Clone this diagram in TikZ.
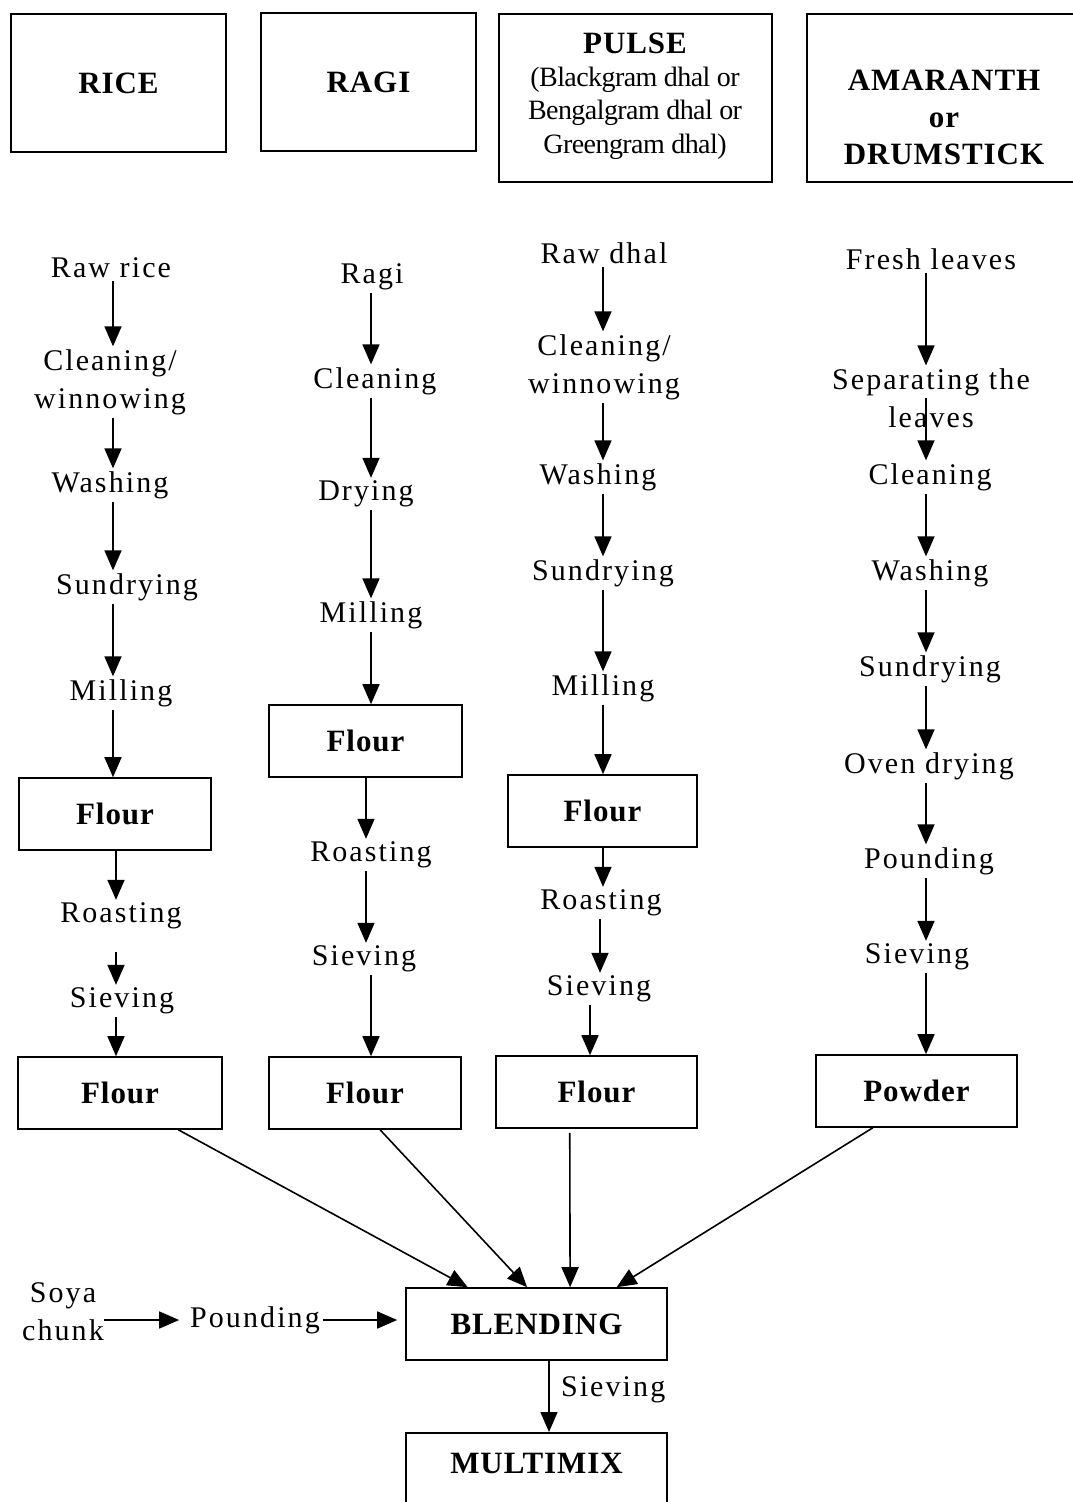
\documentclass[tikz,border=0pt]{standalone}
\usepackage{fontspec}
\setmainfont{Liberation Serif}
\newfontfamily\bodyf[LetterSpace=7]{Liberation Serif}
\newfontfamily\hdf[LetterSpace=3]{Liberation Serif}
\newfontfamily\subf[LetterSpace=-2]{Liberation Serif}
\usetikzlibrary{arrows.meta,calc}
\begin{document}
\begin{tikzpicture}[x=1pt,y=-1pt,
  txt/.style={font=\bodyf\fontsize{30}{38}\selectfont, inner sep=0pt, outer sep=3pt, align=center},
  hb/.style={font=\hdf\bfseries\fontsize{31}{37}\selectfont, align=center},
  box/.style={draw, line width=1.6pt, hb, inner sep=0pt},
  arr/.style={-{Triangle[length=20pt,width=17pt]}, line width=1.6pt}]
\useasboundingbox (0,0) rectangle (1073,1502);
% top boxes
\node[box, minimum width=215, minimum height=138] (rice) at (118.5,83) {RICE};
\node[box, minimum width=215, minimum height=138] (ragi) at (368.5,82) {RAGI};
\node[box, minimum width=273, minimum height=168] (pulse) at (635.5,98) {};
\node[hb, inner sep=0pt] (pulset) at (635,43) {PULSE};
\node[font=\subf\fontsize{28}{33.5}\selectfont, align=center, inner sep=0pt] (pulsesub) at (635,113) {(Blackgram dhal or\\Bengalgram dhal or\\Greengram dhal)};
\node[box, minimum width=268, minimum height=168] (amar) at (941,98) {};
\node[hb, inner sep=0pt] (amart) at (944,117) {AMARANTH\\or\\DRUMSTICK};
% column coordinates
\coordinate (xR) at (113,0);
\coordinate (xR2) at (116,0);
\coordinate (xG) at (371,0);
\coordinate (xG2) at (366,0);
\coordinate (xP) at (603,0);
\coordinate (xP2) at (600,0);
\coordinate (xP3) at (590,0);
\coordinate (xA) at (926,0);
% rice
\node[txt] (rr) at (111,268) {Raw rice};
\node[txt] (rc) at (110,382) {Cleaning/\\winnowing};
\node[txt] (rw) at (110,485) {Washing};
\node[txt] (rs) at (127,587) {Sundrying};
\node[txt] (rm) at (121,693) {Milling};
\node[box, minimum width=192, minimum height=72] (rf1) at (115,814) {Flour};
\node[txt] (rro) at (121,916) {Roasting};
\node[txt] (rsv) at (122,1001) {Sieving};
\node[box, minimum width=204, minimum height=72] (rf2) at (120,1093) {Flour};
\draw[arr] (rr.south -| xR) -- (rc.north -| xR);
\draw[arr] (rc.south -| xR) -- (rw.north -| xR);
\draw[arr] (rw.south -| xR) -- (rs.north -| xR);
\draw[arr] (rs.south -| xR) -- (rm.north -| xR);
\draw[arr] (rm.south -| xR) -- (rf1.north -| xR);
\draw[arr] (rf1.south -| xR2) -- (rro.north -| xR2);
\draw[arr, shorten <=20pt] (rro.south -| xR2) -- (rsv.north -| xR2);
\draw[arr] (rsv.south -| xR2) -- (rf2.north -| xR2);
% ragi
\node[txt] (gr) at (372,277) {Ragi};
\node[txt] (gc) at (375,381) {Cleaning};
\node[txt] (gd) at (366,494) {Drying};
\node[txt] (gm) at (371,615) {Milling};
\node[box, minimum width=193, minimum height=72] (gf1) at (365.5,741) {Flour};
\node[txt] (gro) at (371,855) {Roasting};
\node[txt] (gsv) at (364,959) {Sieving};
\node[box, minimum width=192, minimum height=72] (gf2) at (365,1093) {Flour};
\draw[arr] (gr.south -| xG) -- (gc.north -| xG);
\draw[arr] (gc.south -| xG) -- (gd.north -| xG);
\draw[arr] (gd.south -| xG) -- (gm.north -| xG);
\draw[arr] (gm.south -| xG) -- (gf1.north -| xG);
\draw[arr] (gf1.south -| xG2) -- (gro.north -| xG2);
\draw[arr] (gro.south -| xG2) -- (gsv.north -| xG2);
\draw[arr] (gsv.south -| xG) -- (gf2.north -| xG);
% pulse
\node[txt] (pr) at (604,253) {Raw dhal};
\node[txt] (pc) at (604,367) {Cleaning/\\winnowing};
\node[txt] (pw) at (598,477) {Washing};
\node[txt] (ps) at (603,573) {Sundrying};
\node[txt] (pm) at (603,688) {Milling};
\node[box, minimum width=189, minimum height=72] (pf1) at (602.5,811) {Flour};
\node[txt] (pro) at (601,903) {Roasting};
\node[txt] (psv) at (599,989) {Sieving};
\node[box, minimum width=201, minimum height=72] (pf2) at (596.5,1092) {Flour};
\draw[arr] (pr.south -| xP) -- (pc.north -| xP);
\draw[arr] (pc.south -| xP) -- (pw.north -| xP);
\draw[arr] (pw.south -| xP) -- (ps.north -| xP);
\draw[arr] (ps.south -| xP) -- (pm.north -| xP);
\draw[arr] (pm.south -| xP) -- (pf1.north -| xP);
\draw[arr] (pf1.south -| xP) -- (pro.north -| xP);
\draw[arr] (pro.south -| xP2) -- (psv.north -| xP2);
\draw[arr] (psv.south -| xP3) -- (pf2.north -| xP3);
% amaranth
\node[txt] (ar) at (931,259) {Fresh leaves};
\node[txt] (as) at (931,398) {Separating the\\leaves};
\node[txt] (ac) at (930,477) {Cleaning};
\node[txt] (aw) at (930,573) {Washing};
\node[txt] (asd) at (930,669) {Sundrying};
\node[txt] (ao) at (929,766) {Oven drying};
\node[txt] (ap) at (929,861) {Pounding};
\node[txt] (asv) at (917,957) {Sieving};
\node[box, minimum width=201, minimum height=72] (apw) at (916.5,1091) {Powder};
\draw[arr] (ar.south -| xA) -- (as.north -| xA);
\draw[arr] (as.center -| xA) -- (ac.north -| xA);
\draw[arr] (ac.south -| xA) -- (aw.north -| xA);
\draw[arr] (aw.south -| xA) -- (asd.north -| xA);
\draw[arr] (asd.south -| xA) -- (ao.north -| xA);
\draw[arr] (ao.south -| xA) -- (ap.north -| xA);
\draw[arr] (ap.south -| xA) -- (asv.north -| xA);
\draw[arr] (asv.south -| xA) -- (apw.north -| xA);
% blending
\node[box, minimum width=261, minimum height=72] (bl) at (536.5,1324) {BLENDING};
\draw[arr] ($(rf2.south west)!0.784!(rf2.south east)$) -- ($(bl.north west)!0.238!(bl.north east)$);
\draw[arr] ($(gf2.south west)!0.578!(gf2.south east)$) -- ($(bl.north west)!0.464!(bl.north east)$);
\draw[arr] ([yshift=-4pt]$(pf2.south west)!0.368!(pf2.south east)$) -- ($(bl.north west)!0.628!(bl.north east)$);
\draw[arr] ($(apw.south west)!0.284!(apw.south east)$) -- ($(bl.north west)!0.805!(bl.north east)$);
% soya
\node[txt, outer sep=0pt] (soya) at (63,1312) {Soya\\chunk};
\node[txt] (pd) at (255,1320) {Pounding};
\draw[arr] (soya.east |- pd.center) -- ([xshift=-8pt]pd.west);
\draw[arr] (pd.east) -- ([xshift=-8pt]bl.west |- pd.east);
% multimix
\node[box, minimum width=261, minimum height=80, anchor=north] (mmbox) at (536.5,1432) {};
\node[hb, inner sep=0pt] (mm) at (536.5,1463) {MULTIMIX};
\coordinate (xB) at (549,0);
\draw[arr] (bl.south -| xB) -- (mmbox.north -| xB);
\node[txt, anchor=west] (sv) at (558,1390) {Sieving};
\end{tikzpicture}
\end{document}
